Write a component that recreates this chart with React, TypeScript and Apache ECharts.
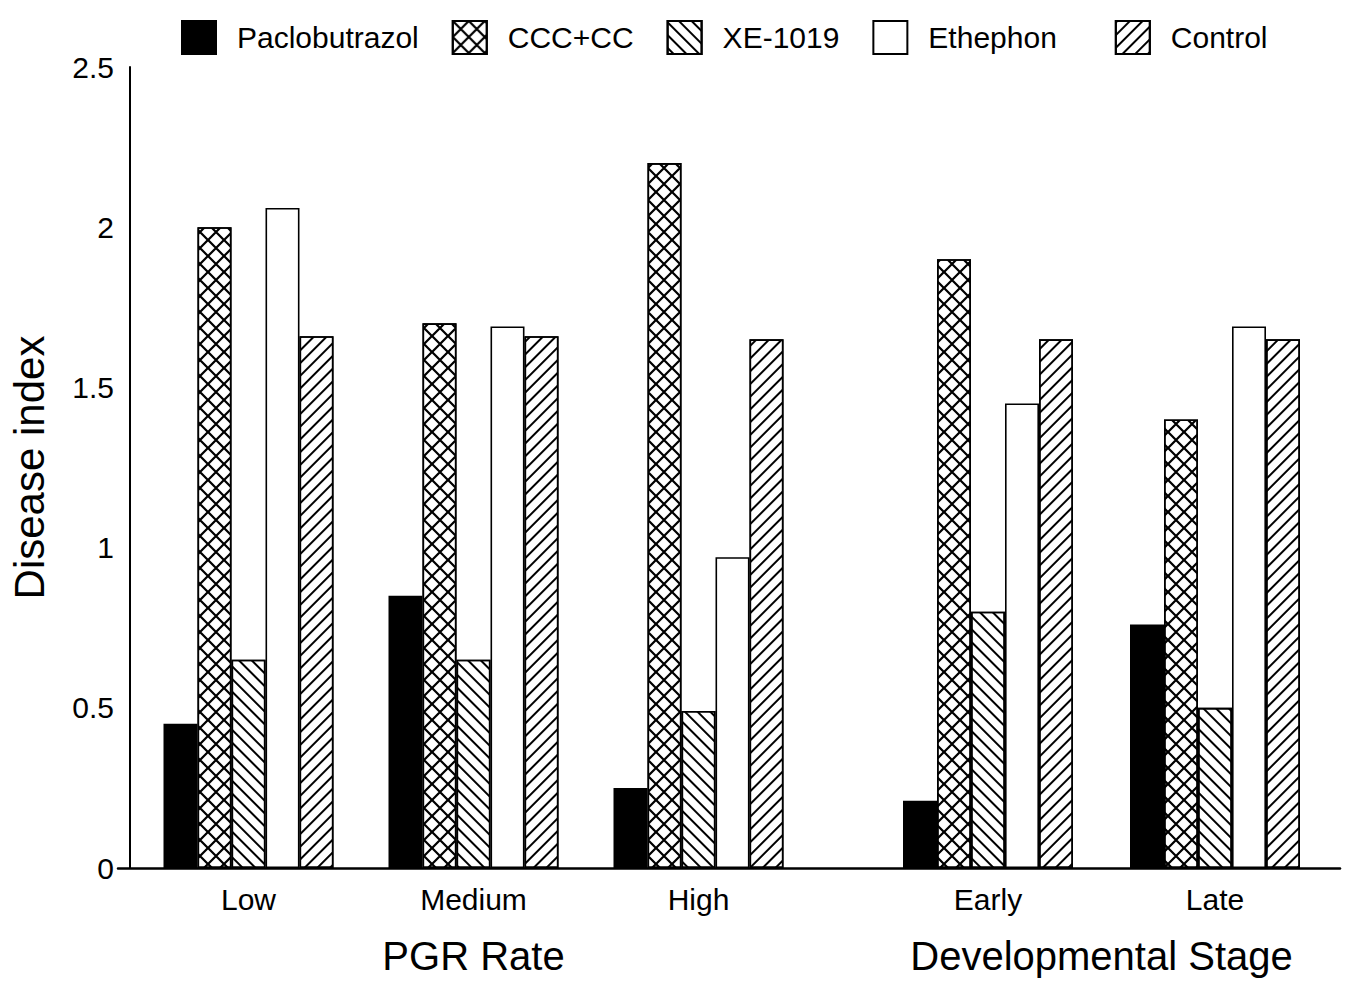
import React, { useEffect, useRef } from "react";
import * as echarts from "echarts";

const rateCategories = ["Low", "Medium", "High"];
const stageCategories = ["Early", "Late"];
const treatments = ["Paclobutrazol", "CCC+CC", "XE-1019", "Ethephon", "Control"];

// values per treatment, PGR rate groups (Low, Medium, High)
const paclobutrazolRate = [0.45, 0.85, 0.25];
const cccRate = [2.0, 1.7, 2.2];
const xeRate = [0.65, 0.65, 0.49];
const ethephonRate = [2.06, 1.69, 0.97];
const controlRate = [1.66, 1.66, 1.65];

// developmental stage groups (Early, Late)
const paclobutrazolStage = [0.21, 0.76];
const cccStage = [1.9, 1.4];
const xeStage = [0.8, 0.5];
const ethephonStage = [1.45, 1.69];
const controlStage = [1.65, 1.65];

const yTicks = { min: 0, max: 2.5, interval: 0.5 };

const FONT = "'Liberation Sans', Arial, Helvetica, sans-serif";

const crossPath =
  "path://M0 0L1 0L10 9L10 10L9 10L0 1Z M10 0L10 1L1 10L0 10L0 9L9 0Z";

const decals: any = {
  Paclobutrazol: null,
  "CCC+CC": {
    symbol: crossPath,
    symbolSize: 1,
    dashArrayX: [16, 0],
    dashArrayY: [16, 0],
    rotation: 0,
    color: "#000",
    backgroundColor: "#fff",
  },
  "XE-1019": {
    symbol: "rect",
    symbolSize: 1,
    dashArrayX: [1, 0],
    dashArrayY: [2, 7],
    rotation: Math.PI / 4,
    color: "#000",
    backgroundColor: "#fff",
  },
  Ethephon: null,
  Control: {
    symbol: "rect",
    symbolSize: 1,
    dashArrayX: [1, 0],
    dashArrayY: [2, 7],
    rotation: -Math.PI / 4,
    color: "#000",
    backgroundColor: "#fff",
  },
};

const fills: Record<string, string> = {
  Paclobutrazol: "#000",
  "CCC+CC": "#fff",
  "XE-1019": "#fff",
  Ethephon: "#fff",
  Control: "#fff",
};

const rateData = [paclobutrazolRate, cccRate, xeRate, ethephonRate, controlRate];
const stageData = [paclobutrazolStage, cccStage, xeStage, ethephonStage, controlStage];

function makeSeries(name: string, data: number[], gridIdx: number) {
  const itemStyle: any = {
    color: fills[name],
    borderColor: "#000",
    borderWidth: 1.6,
  };
  if (decals[name]) itemStyle.decal = decals[name];
  return {
    type: "bar",
    name,
    xAxisIndex: gridIdx,
    yAxisIndex: gridIdx,
    data,
    barWidth: 34,
    barGap: "0%",
    itemStyle,
    emphasis: { disabled: true },
  };
}

export default function App() {
  const ref = useRef<HTMLDivElement>(null);
  useEffect(() => {
    if (!ref.current) return;
    const chart = echarts.init(ref.current, undefined, { renderer: "svg" });
    const catAxis = (idx: number, data: string[], name: string) => ({
      type: "category",
      gridIndex: idx,
      data,
      axisLine: { show: false },
      axisTick: { show: false },
      axisLabel: { fontSize: 30, margin: 16, color: "#000", fontFamily: FONT },
      name,
      nameLocation: "middle",
      nameGap: 68,
      nameTextStyle: { fontSize: 40, color: "#000", fontFamily: FONT },
    });
    const option: any = {
      animation: false,
      backgroundColor: "#fff",
      textStyle: { fontFamily: FONT, color: "#000" },
      legend: {
        top: 15,
        left: 176,
        itemWidth: 34,
        itemHeight: 33,
        itemGap: 33,
        icon: "rect",
        data: treatments,
        formatter: (n: string) => (n === "Ethephon" ? n + "\u00a0\u00a0\u00a0" : n),
        selectedMode: false,
        textStyle: { fontSize: 30, color: "#000", fontFamily: FONT, padding: [0, 0, 0, 16] },
      },
      grid: [
        { left: 134, top: 67, width: 677, height: 801 },
        { left: 874.5, top: 67, width: 454, height: 801 },
        { left: 118, top: 67, width: 1222, height: 801 },
      ],
      xAxis: [
        catAxis(0, rateCategories, "PGR Rate"),
        catAxis(1, stageCategories, "Developmental Stage"),
        {
          type: "value",
          gridIndex: 2,
          min: 0,
          max: 1,
          axisLine: { show: true, onZero: false, lineStyle: { color: "#000", width: 2.5 } },
          axisTick: { show: false },
          axisLabel: { show: false },
          splitLine: { show: false },
        },
      ],
      yAxis: [
        {
          type: "value",
          gridIndex: 0,
          ...yTicks,
          offset: 6,
          axisLine: { show: true, lineStyle: { color: "#000", width: 2 } },
          axisTick: { show: false },
          splitLine: { show: false },
          axisLabel: { fontSize: 30, margin: 16, color: "#000", fontFamily: FONT },
          name: "Disease index",
          nameLocation: "middle",
          nameGap: 80,
          nameTextStyle: { fontSize: 42, color: "#000", fontFamily: FONT },
        },
        { type: "value", gridIndex: 1, ...yTicks, show: false },
        { type: "value", gridIndex: 2, min: 0, max: 1, show: false },
      ],
      series: [
        ...treatments.map((t, i) => makeSeries(t, rateData[i], 0)),
        ...treatments.map((t, i) => makeSeries(t, stageData[i], 1)),
      ],
    };
    chart.setOption(option);
    return () => chart.dispose();
  }, []);
  return (
    <div
      ref={ref}
      style={{ position: "fixed", left: 0, top: 0, width: 1349, height: 987, background: "#fff" }}
    />
  );
}
